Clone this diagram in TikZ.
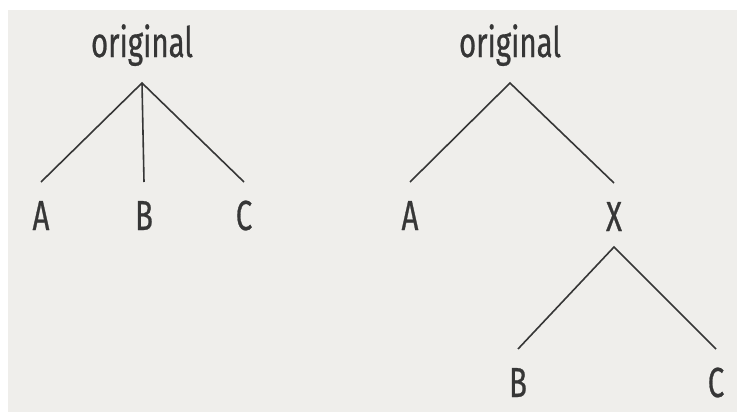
\documentclass[tikz,border=0pt]{standalone}
\usepackage{fontspec}
\setmainfont{Fira Sans}[FakeStretch=0.70, FakeBold=0.6]
\definecolor{paper}{HTML}{EFEEEB}
\definecolor{ink}{HTML}{363636}
\begin{document}
\begin{tikzpicture}[x=1pt,y=-1pt,
  lab/.style={font=\fontsize{42}{46}\selectfont, text=ink, inner sep=0pt, anchor=base,
              text height=29pt, text depth=0pt, outer ysep=19pt},
  top/.style={font=\fontsize{42}{46}\selectfont, text=ink, inner sep=0pt, anchor=base,
              text depth=10pt, outer ysep=16pt},
  edge/.style={draw=ink, line width=1.6pt}]
\useasboundingbox (0,0) rectangle (737,415);
\fill[white] (0,0) rectangle (737,415);
\fill[paper] (8,10) rectangle (737,412);
% left tree
\node[top] (O1) at (142,57) {original};
\node[lab] (A1) at (41,230) {A};
\node[lab] (B1) at (144,230) {B};
\node[lab] (C1) at (244,230) {C};
\draw[edge] (A1.north) -- (O1.south) -- (C1.north);
\draw[edge] (O1.south) -- (B1.north);
% right tree
\node[top] (O2) at (510,57) {original};
\node[lab] (A2) at (410,230) {A};
\node[lab] (X2) at (614,231) {X};
\draw[edge] (A2.north) -- (O2.south) -- (X2.north);
\node[lab] (B2) at (518,397) {B};
\node[lab] (C2) at (716,397) {C};
\draw[edge] (B2.north) -- ([yshift=3pt]X2.south) -- (C2.north);
\end{tikzpicture}
\end{document}
